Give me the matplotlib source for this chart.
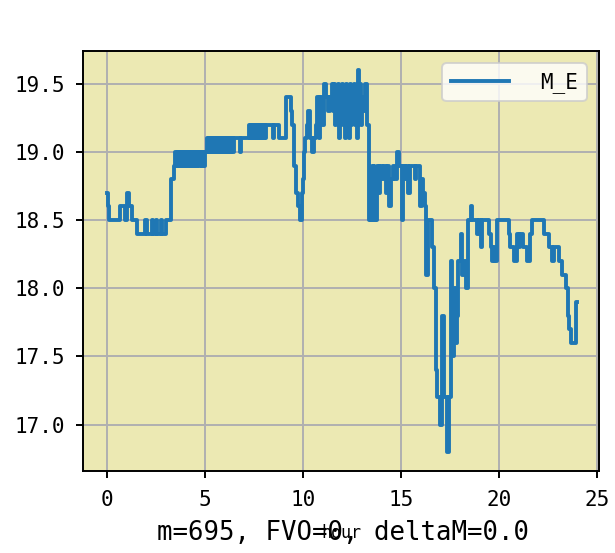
import matplotlib
matplotlib.use("Agg")
import matplotlib.pyplot as plt
from matplotlib.ticker import FormatStrFormatter

# M_E readings over the day (value holds until the next hour stamp)
hours = [
    # night, around 18.5
    0.00, 0.04, 0.10, 0.65, 0.90, 1.05, 1.13, 1.30, 1.55, 1.95, 2.05,
    2.30, 2.35, 2.50, 2.55, 2.75, 2.80, 3.00, 3.25, 3.42, 3.50,
    # 19.0 / 18.9 band
    3.58, 3.62, 3.70, 3.74, 3.82, 3.86, 3.95, 3.99, 4.08, 4.12, 4.20, 4.25,
    4.33, 4.37, 4.45, 4.50, 4.58, 4.62, 4.70, 4.75, 4.83, 4.88, 4.95, 5.00,
    # 19.1 / 19.0 band
    5.12, 5.17, 5.21, 5.29, 5.33, 5.42, 5.46, 5.54, 5.58, 5.67, 5.71, 5.79,
    5.83, 5.92, 5.96, 6.04, 6.08, 6.17, 6.21, 6.29, 6.33, 6.42, 6.46, 6.79, 6.84,
    # 19.2 / 19.1 band
    7.25, 7.30, 7.36, 7.42, 7.48, 7.55, 7.61, 7.68, 7.74, 7.80, 7.87, 7.93,
    8.00, 8.06, 8.12, 8.45, 8.50, 8.78,
    # dip near 10 h and climb
    9.12, 9.37, 9.45, 9.56, 9.66, 9.74, 9.83, 9.93, 9.98, 10.03, 10.07, 10.12,
    10.20, 10.27, 10.36, 10.47, 10.58, 10.66, 10.72, 10.80, 10.88, 10.97,
    11.05, 11.17, 11.30, 11.40,
    # noisy top
    11.48, 11.53, 11.58, 11.63, 11.68, 11.73, 11.78, 11.84, 11.89, 11.94,
    11.99, 12.04, 12.09, 12.14, 12.19, 12.24, 12.29, 12.35, 12.40, 12.45,
    12.50, 12.55, 12.60, 12.66, 12.71, 12.76, 12.82, 12.88, 12.93, 12.98,
    13.03, 13.10, 13.15, 13.27,
    # afternoon 18.5 - 19.0
    13.37, 13.42, 13.46, 13.50, 13.55, 13.60, 13.64, 13.70, 13.74, 13.80,
    13.88, 13.95, 14.05, 14.13, 14.25, 14.32, 14.40, 14.48, 14.60, 14.70,
    14.78, 14.88, 15.03, 15.10, 15.20, 15.28, 15.38, 15.45, 15.70, 15.78,
    15.98, 16.08, 16.12, 16.20,
    # evening drop
    16.29, 16.40, 16.60, 16.70, 16.77, 16.85, 17.00, 17.08, 17.19, 17.36,
    17.45, 17.53, 17.62, 17.70, 17.79, 17.87, 17.92, 18.04, 18.13, 18.21,
    18.30, 18.40, 18.55, 18.64, 18.90, 18.98, 19.06, 19.15, 19.49, 19.58,
    19.66, 19.72, 19.80, 19.90,
    # late evening
    20.51, 20.56, 20.77, 20.94, 21.00, 21.08, 21.20, 21.42, 21.58, 21.68,
    22.30, 22.55, 22.70, 22.78, 23.06, 23.23, 23.40, 23.52, 23.58, 23.65,
    23.93, 23.98,
]
m_e = [
    18.7, 18.6, 18.5, 18.6, 18.5, 18.7, 18.6, 18.5, 18.4, 18.5, 18.4,
    18.5, 18.4, 18.5, 18.4, 18.5, 18.4, 18.5, 18.8, 18.9, 19.0,
    18.9, 19.0, 18.9, 19.0, 18.9, 19.0, 18.9, 19.0, 18.9, 19.0, 18.9, 19.0,
    18.9, 19.0, 18.9, 19.0, 18.9, 19.0, 18.9, 19.0, 18.9, 19.0, 18.9, 19.0,
    19.1, 19.0, 19.1, 19.0, 19.1, 19.0, 19.1, 19.0, 19.1, 19.0, 19.1, 19.0,
    19.1, 19.0, 19.1, 19.0, 19.1, 19.0, 19.1, 19.0, 19.1, 19.0, 19.1, 19.0, 19.1,
    19.2, 19.1, 19.2, 19.1, 19.2, 19.1, 19.2, 19.1, 19.2, 19.1, 19.2, 19.1,
    19.2, 19.1, 19.2, 19.1, 19.2, 19.1,
    19.4, 19.3, 19.2, 18.9, 18.7, 18.6, 18.5, 18.7, 18.8, 18.9, 19.0, 19.1,
    19.2, 19.3, 19.1, 19.0, 19.1, 19.2, 19.4, 19.1, 19.4, 19.2,
    19.5, 19.4, 19.3, 19.4,
    19.5, 19.3, 19.5, 19.2, 19.4, 19.3, 19.5, 19.1, 19.4, 19.3,
    19.5, 19.2, 19.4, 19.1, 19.5, 19.3, 19.4, 19.1, 19.5, 19.2,
    19.4, 19.3, 19.5, 19.2, 19.4, 19.1, 19.6, 19.3, 19.5, 19.2,
    19.4, 19.3, 19.5, 19.2,
    18.5, 18.8, 18.5, 18.9, 18.6, 18.9, 18.5, 18.8, 18.5, 18.9,
    18.7, 18.9, 18.8, 18.9, 18.7, 18.9, 18.6, 18.8, 18.9, 18.8,
    19.0, 18.9, 18.5, 18.9, 18.8, 18.9, 18.7, 18.9, 18.8, 18.9,
    18.6, 18.8, 18.7, 18.6,
    18.1, 18.5, 18.3, 18.0, 17.4, 17.2, 17.0, 17.8, 17.2, 16.8,
    17.2, 18.2, 17.5, 18.0, 17.6, 17.8, 18.2, 18.4, 18.1, 18.2,
    18.0, 18.5, 18.6, 18.5, 18.4, 18.5, 18.3, 18.5, 18.4, 18.3,
    18.2, 18.3, 18.2, 18.5,
    18.4, 18.3, 18.2, 18.4, 18.3, 18.4, 18.3, 18.2, 18.4, 18.5,
    18.4, 18.3, 18.2, 18.3, 18.2, 18.1, 18.0, 17.8, 17.7, 17.6,
    17.9, 17.9,
]
x_ticks = [0, 5, 10, 15, 20, 25]
y_ticks = [17.0, 17.5, 18.0, 18.5, 19.0, 19.5]
footer = "m=695, FVO=0, deltaM=0.0"

mono = "DejaVu Sans Mono"
plt.rcParams["font.family"] = [mono, "Noto Sans CJK SC"]

fig = plt.figure(figsize=(6.15, 5.53), dpi=100)
ax = fig.add_axes([0.1355, 0.1483, 0.8385, 0.7595])
ax.set_facecolor("#ECE9B3")

ax.plot(hours, m_e, drawstyle="steps-post", color="#1f77b4", lw=2.8, label="M_E")

ax.set_xlim(-1.2, 25.1)
ax.margins(y=0.05)
ax.set_xticks(x_ticks)
ax.set_yticks(y_ticks)
ax.yaxis.set_major_formatter(FormatStrFormatter("%.1f"))
ax.tick_params(labelsize=15, length=5, width=1.4)
ax.tick_params(axis="x", pad=8.5)
ax.tick_params(axis="y", pad=8)
ax.grid(True, color="#b0b0b0", lw=1.4)
ax.set_axisbelow(True)
for sp in ax.spines.values():
    sp.set_linewidth(1.4)

ax.set_xlabel("hour", fontsize=12, labelpad=10)

leg = ax.legend(loc="upper right", fontsize=15, handlelength=2.8,
                handletextpad=1.5, borderaxespad=0.6)
leg.get_frame().set_linewidth(1.4)

fig.text(0.558, 0.0235, footer, ha="center", va="baseline", fontsize=18.5)

fig.savefig("out.png", dpi=100)
